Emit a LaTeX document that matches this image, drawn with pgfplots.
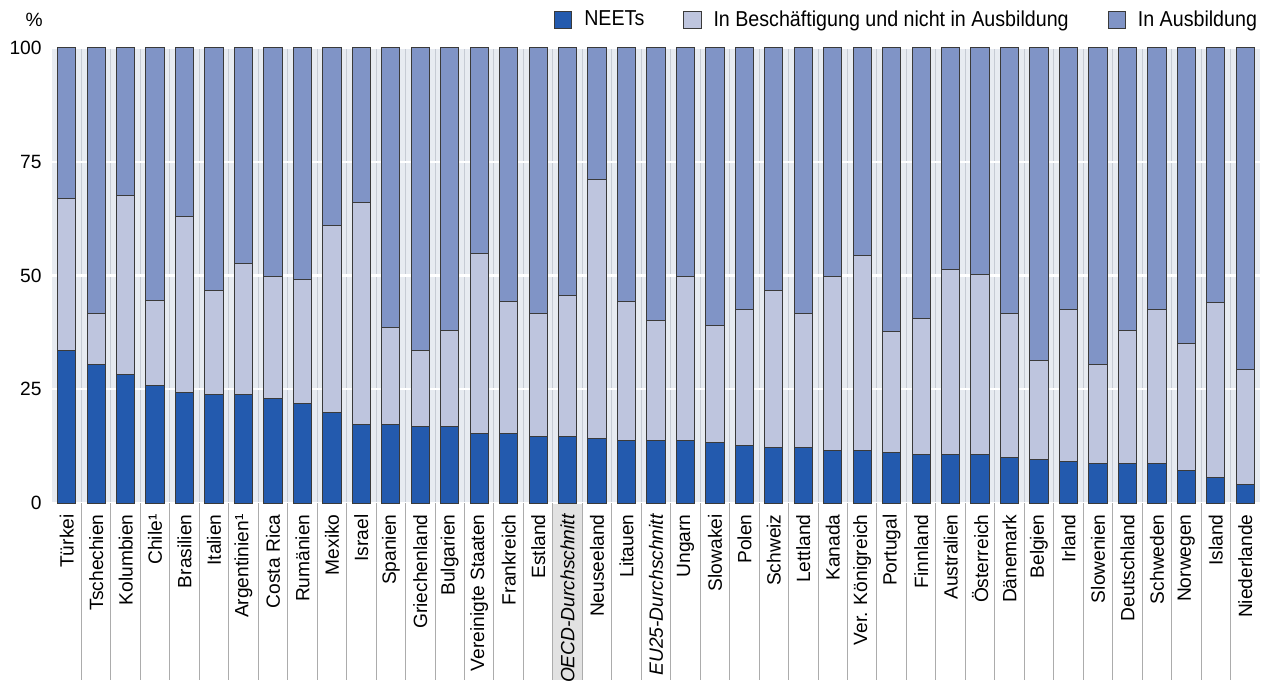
\documentclass[border=0pt]{standalone}
\usepackage{fontspec}
\setmainfont{Liberation Sans}
\newfontfamily\narrowfont[FakeStretch=0.91]{Liberation Sans}
\usepackage{pgfplots}
\usepackage{pgfplotstable}
\pgfplotsset{compat=1.18}

\definecolor{neet}{HTML}{235AAE}
\definecolor{empl}{HTML}{BEC5DE}
\definecolor{educ}{HTML}{8094C6}
\definecolor{plotbg}{HTML}{E7EBF1}
\definecolor{barline}{HTML}{3A3A3A}
\definecolor{sepplot}{HTML}{C6CBD4}
\definecolor{seplab}{HTML}{ACACAC}
\definecolor{oecdshade}{HTML}{E2E2E2}

% x  NEETs  in work, not in education  in education
\pgfplotstableread{
x neet emp edu
0 33.5 33.5 33.0
1 30.4 11.2 58.4
2 28.3 39.2 32.5
3 25.9 18.7 55.4
4 24.3 38.6 37.1
5 23.8 22.9 53.3
6 23.8 28.9 47.3
7 22.9 26.8 50.3
8 21.8 27.4 50.8
9 19.8 41.1 39.1
10 17.2 48.8 34.0
11 17.2 21.3 61.5
12 16.8 16.7 66.5
13 16.8 21.2 62.0
14 15.2 39.6 45.2
15 15.2 29.0 55.8
16 14.7 26.9 58.4
17 14.7 31.0 54.3
18 14.2 56.9 28.9
19 13.7 30.5 55.8
20 13.7 26.4 59.9
21 13.7 36.0 50.3
22 13.2 25.8 61.0
23 12.7 29.9 57.4
24 12.2 34.5 53.3
25 12.2 29.4 58.4
26 11.6 38.1 50.3
27 11.6 42.7 45.7
28 11.1 26.5 62.4
29 10.6 30.0 59.4
30 10.6 40.7 48.7
31 10.6 39.7 49.7
32 10.1 31.5 58.4
33 9.6 21.8 68.6
34 9.1 33.5 57.4
35 8.6 21.8 69.6
36 8.6 29.4 62.0
37 8.6 34.0 57.4
38 7.1 27.9 65.0
39 5.6 38.5 55.9
40 4.0 25.4 70.6
}\shares

\begin{document}
\begin{tikzpicture}
% shaded label cell of the OECD average (column 17 of 41), drawn before the axis so the label sits on top
\fill[oecdshade] ({17/41*604pt},0pt) rectangle ({18/41*604pt},-88.5pt);
\begin{axis}[
  at={(0pt,0pt)}, anchor=south west,
  scale only axis, width=604pt, height=227.5pt,
  ybar stacked, bar width=0.62,
  xmin=-0.5, xmax=40.5, ymin=0, ymax=100,
  clip=false,
  axis background/.style={fill=plotbg},
  axis line style={draw=none},
  tick style={draw=none},
  ytick={0,25,50,75,100},
  ymajorgrids, major grid style={white, line width=1.2pt},
  xtick={0,...,40},
  minor xtick={0.5,1.5,...,39.5},
  xminorgrids, minor grid style={sepplot, line width=0.5pt},
  /pgf/number format/assume math mode=true,
  yticklabel style={inner sep=0pt, xshift=-5pt, font=\fontsize{9.6}{11}\selectfont},
  xticklabel style={rotate=90, anchor=east, inner sep=0pt, font=\fontsize{9.6}{11}\selectfont},
  xticklabel shift=5.5pt,
  xticklabels={Türkei, Tschechien, Kolumbien, Chile¹, Brasilien, Italien,
    Argentinien¹, Costa Rica, Rumänien, Mexiko, Israel, Spanien,
    Griechenland, Bulgarien, Vereinigte Staaten, Frankreich, Estland,
    {\itshape OECD-Durchschnitt}, Neuseeland, Litauen,
    {\itshape EU25-Durchschnitt}, Ungarn, Slowakei, Polen, Schweiz,
    Lettland, Kanada, Ver. Königreich, Portugal, Finnland, Australien,
    Österreich, Dänemark, Belgien, Irland, Slowenien, Deutschland,
    Schweden, Norwegen, Island, Niederlande},
  legend columns=3,
  legend image code/.code={%
    \path (-13.5pt,0pt);
    \draw[#1] (0pt,-4.3pt) rectangle (8.6pt,4.3pt);},
  legend style={draw=none, fill=none, inner sep=0pt, outer sep=0pt,
    nodes={inner sep=0pt},
    column sep=6pt, font=\narrowfont\fontsize{10.8}{12}\selectfont,
    at={(rel axis cs:1,1)}, anchor=east, xshift=-1.5pt, yshift=14pt},
]
\addplot[fill=neet, draw=barline, line width=0.5pt] table[x=x, y=neet] {\shares};
\addlegendentry{NEETs}
\addplot[fill=empl, draw=barline, line width=0.5pt] table[x=x, y=emp] {\shares};
\addlegendentry{In Beschäftigung und nicht in Ausbildung}
\addplot[fill=educ, draw=barline, line width=0.5pt] table[x=x, y=edu] {\shares};
\addlegendentry{In Ausbildung}

\pgfplotsinvokeforeach{0,...,39}{
  \draw[seplab, line width=0.5pt] (axis cs:#1+0.5,0) -- ([yshift=-88.5pt]axis cs:#1+0.5,0);
}
\node[anchor=east, inner sep=0pt, font=\fontsize{9.6}{11}\selectfont]
  at ([xshift=-4.5pt, yshift=14pt]rel axis cs:0,1) {\%};
\coordinate (SW) at (rel axis cs:0,0);
\coordinate (NE) at (rel axis cs:1,1);
\end{axis}
\pgfresetboundingbox
\path[use as bounding box] ([shift={(-26pt,-88.5pt)}]SW) rectangle ([shift={(3.5pt,24pt)}]NE);
\end{tikzpicture}
\end{document}
